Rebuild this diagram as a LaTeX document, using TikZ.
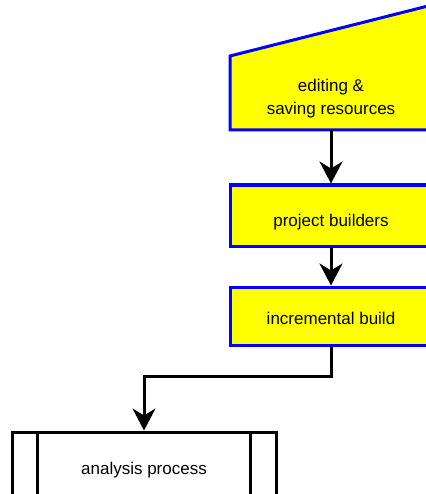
\documentclass[tikz,border=0pt]{standalone}
\usepackage{fontspec}
\setmainfont{Liberation Sans}
\usetikzlibrary{arrows.meta}
\definecolor{stagefill}{RGB}{255,255,0}
\definecolor{stageline}{RGB}{0,0,255}
\begin{document}
\begin{tikzpicture}[x=1pt,y=-1pt,
  labelfont/.style={font=\fontsize{17}{23}\selectfont},
  stagebox/.style={labelfont, draw=stageline, fill=stagefill, line width=3pt,
    minimum width=202pt, minimum height=61pt, inner sep=0pt, align=center},
  stageshape/.style={draw=stageline, fill=stagefill, line width=3pt},
  processbox/.style={labelfont, draw=black, fill=white, line width=3pt,
    minimum width=264pt, minimum height=70pt, inner sep=0pt},
  sideline/.style={draw=black, line width=3pt},
  flow/.style={draw=black, line width=3pt,
    -{Stealth[length=22pt, width=23pt, inset=7pt]}}]
\useasboundingbox (0,0) rectangle (425,494);

% manual-input shape with slanted top edge
\draw[stageshape] (230,56) -- (432,5) -- (432,130) -- (230,130) -- cycle;
\node[labelfont, align=center, minimum height=63pt, inner sep=0pt] (edit) at (331,98.5)
  {editing \&\\saving resources};

% build stages (text sits a little below the box centre)
\node[stagebox, text height=22pt, text depth=0pt] (builders) at (331,215.5) {project builders};
\node[stagebox, minimum height=58pt, text height=17pt, text depth=0pt] (incr) at (331,316)
  {incremental build};

% predefined process box with double side bars
\node[processbox, text height=14pt, text depth=0pt] (analysis) at (144,467) {analysis process};
\draw[sideline] ([xshift=27pt]analysis.north west) -- ([xshift=27pt]analysis.south west);
\draw[sideline] ([xshift=-27pt]analysis.north east) -- ([xshift=-27pt]analysis.south east);

% connectors
\draw[flow] (edit.south) -- (builders.north);
\draw[flow] (builders.south) -- (incr.north);
\draw[flow] (incr.south) -- ++(0,30) -| (analysis.north);
\end{tikzpicture}
\end{document}
